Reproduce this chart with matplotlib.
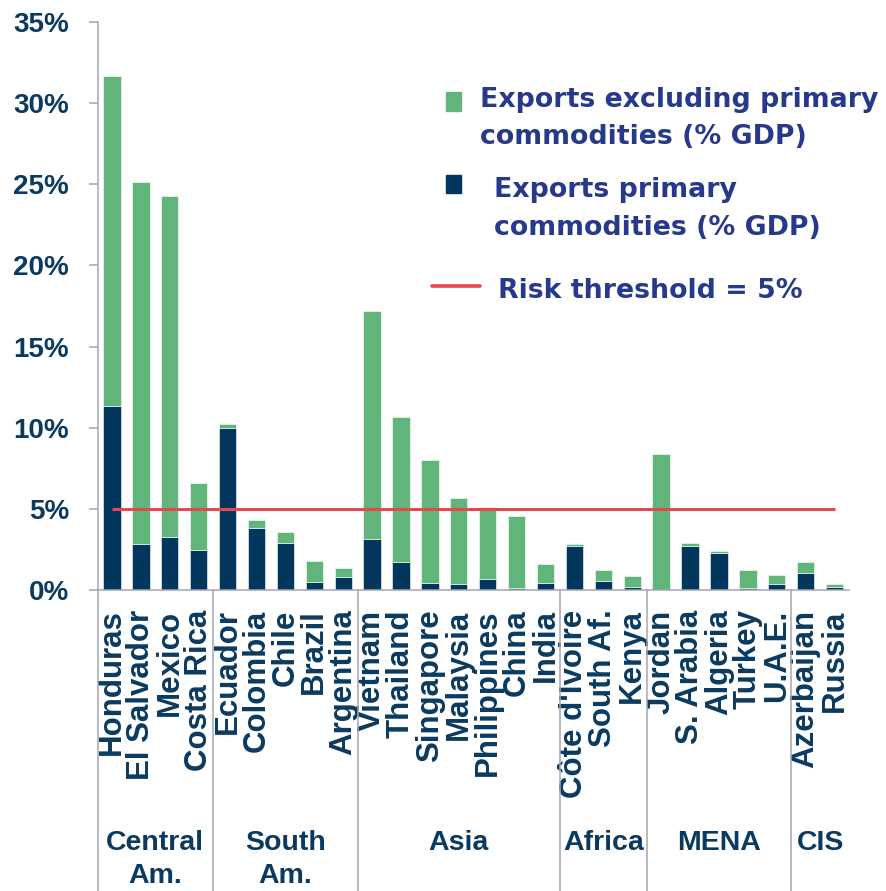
import matplotlib
matplotlib.use("Agg")
import matplotlib.pyplot as plt
from matplotlib.patches import Rectangle
from matplotlib.lines import Line2D
from matplotlib.ticker import FuncFormatter

# ---- data -----------------------------------------------------------------
countries = ["Honduras", "El Salvador", "Mexico", "Costa Rica",
             "Ecuador", "Colombia", "Chile", "Brazil", "Argentina",
             "Vietnam", "Thailand", "Singapore", "Malaysia", "Philippines", "China", "India",
             "Côte d'Ivoire", "South Af.", "Kenya",
             "Jordan", "S. Arabia", "Algeria", "Turkey", "U.A.E.",
             "Azerbaijan", "Russia"]

primary = [11.36, 2.81, 3.25, 2.46,
           10.00, 3.82, 2.87, 0.51, 0.78,
           3.14, 1.70, 0.43, 0.35, 0.70, 0.12, 0.43,
           2.73, 0.53, 0.18,
           0.00, 2.73, 2.30, 0.12, 0.35,
           1.03, 0.18]

non_primary = [20.31, 22.35, 21.05, 4.15,
               0.25, 0.49, 0.68, 1.26, 0.58,
               14.05, 8.98, 7.60, 5.32, 4.39, 4.46, 1.19,
               0.08, 0.68, 0.68,
               8.40, 0.15, 0.08, 1.09, 0.59,
               0.67, 0.17]

regions = ["Central\nAm.", "South\nAm.", "Asia", "Africa", "MENA", "CIS"]
region_sizes = [4, 5, 7, 3, 5, 2]

risk_threshold = 5.0
y_ticks = [0, 5, 10, 15, 20, 25, 30, 35]

# ---- style ----------------------------------------------------------------
GREEN = "#62B57A"
NAVY = "#03365C"
RED = "#E8474C"
GREY = "#A3A6B6"
LABEL = "#0B3A60"
LEGEND = "#26398A"

W, H = 886, 891
fig = plt.figure(figsize=(W / 100, H / 100), dpi=100)
ax = fig.add_axes([97.5 / W, 1 - 590 / H, (849 - 97.5) / W, (590 - 22) / H])

x = list(range(len(countries)))
ax.bar(x, primary, width=0.6, color=NAVY, edgecolor="white", linewidth=0.4)
ax.bar(x, non_primary, width=0.6, bottom=primary, color=GREEN,
       edgecolor="white", linewidth=0.4)
ax.hlines(risk_threshold, x[0], x[-1], color=RED, linewidth=2.2, zorder=3)

ax.set_xlim(-0.5, len(countries) - 0.5)
ax.set_ylim(0, 35)

for s in ["top", "right"]:
    ax.spines[s].set_visible(False)
for s in ["left", "bottom"]:
    ax.spines[s].set_color(GREY)
    ax.spines[s].set_linewidth(1.1)

ax.set_yticks(y_ticks)
ax.yaxis.set_major_formatter(FuncFormatter(lambda v, p: f"{v:.0f}%"))
ax.tick_params(axis="y", direction="out", length=6.5, width=1.1, color=GREY,
               pad=14, labelsize=20, labelcolor=LABEL)
for t in ax.get_yticklabels():
    t.set_fontfamily("Liberation Sans")
    t.set_fontweight("bold")

ax.set_xticks(x)
ax.set_xticklabels(countries, rotation=90, ha="center", va="top",
                   fontsize=22.5, fontweight="bold", color=LABEL,
                   fontfamily="Liberation Sans")
ax.tick_params(axis="x", length=0, pad=14)

# region separators and labels below the axis
xt = ax.get_xaxis_transform()
edges = [-0.5]
for n in region_sizes:
    edges.append(edges[-1] + n)
for e in edges[:-1]:
    ax.plot([e, e], [0, -0.6], transform=xt, color=GREY, lw=1.1, clip_on=False)

for i, name in enumerate(regions):
    cx = (edges[i] + edges[i + 1]) / 2
    ax.text(cx, -0.4225, name, transform=xt, ha="center", va="top",
            fontsize=20.5, fontweight="bold", color=LABEL,
            fontfamily="Liberation Sans", linespacing=1.37)

# legend
def px(xp, yp):
    return xp / W, 1 - yp / H

fig.add_artist(Rectangle(px(446, 110.7), 15 / W, 18.4 / H, color=GREEN,
                         transform=fig.transFigure))
fig.add_artist(Rectangle(px(446, 193.3), 15 / W, 18.3 / H, color=NAVY,
                         transform=fig.transFigure))
fig.add_artist(Line2D([431.7 / W, 480 / W], [1 - 286 / H, 1 - 286 / H],
                      color=RED, lw=2.6, solid_capstyle="round",
                      transform=fig.transFigure))

legend_lines = [
    (480, 107, "Exports excluding primary"),
    (480, 143.5, "commodities (% GDP)"),
    (493.5, 197, "Exports primary"),
    (493.5, 235, "commodities (% GDP)"),
    (498.5, 298.5, "Risk threshold = 5%"),
]
for xp, yp, s in legend_lines:
    fx, fy = px(xp, yp)
    fig.text(fx, fy, s, ha="left", va="baseline", fontsize=19.3,
             fontweight="bold", color=LEGEND, fontfamily="DejaVu Sans")

fig.savefig("out.png", dpi=100)
